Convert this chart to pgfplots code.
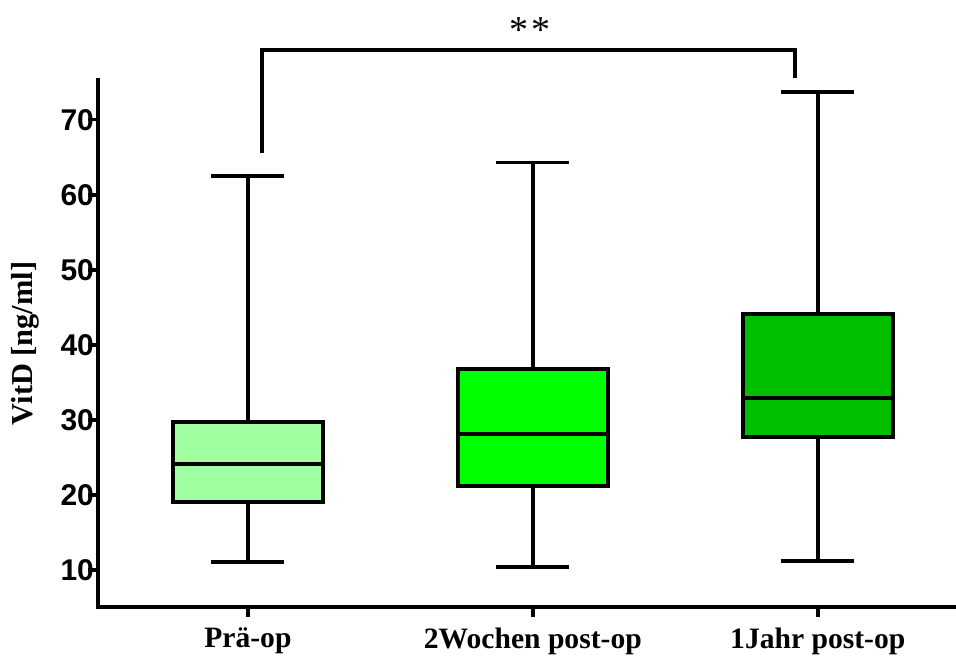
\documentclass[border=0pt]{standalone}
\usepackage{fontspec}
\setmainfont{Liberation Serif}
\setsansfont{Liberation Sans}
\usepackage{pgfplots}
\pgfplotsset{compat=1.18}
\definecolor{gA}{RGB}{160,255,160}
\definecolor{gB}{RGB}{0,255,0}
\definecolor{gC}{RGB}{0,190,0}
\begin{document}
\begin{tikzpicture}
\useasboundingbox (-49pt,-24pt) rectangle (429pt,303.5pt);
\begin{axis}[
  at={(0pt,0pt)}, anchor=south west,
  scale only axis,
  width=429pt, height=263.5pt,
  xmin=-0.526, xmax=2.485,
  ymin=5.07, ymax=75.3,
  clip=false,
  axis lines=left,
  axis line style={-, line width=1.9pt, line cap=rect},
  xtick={0,1,2},
  xticklabels={Prä-op, 2Wochen post-op, 1Jahr post-op},
  ytick={10,20,30,40,50,60,70},
  tick style={line width=1.7pt, black},
  tick align=outside,
  major tick length=5pt,
  /pgf/number format/assume math mode=true,
  yticklabel style={font=\sffamily\bfseries\fontsize{15}{17}\selectfont, xshift=6.5pt},
  xticklabel style={font=\rmfamily\bfseries\fontsize{14.8}{17}\selectfont, yshift=-2pt},
  ylabel={VitD [ng/ml]},
  ylabel style={font=\rmfamily\bfseries\fontsize{15.2}{17}\selectfont, yshift=4pt},
  every axis plot/.append style={line width=1.9pt, black, mark=none},
]
% Pre-op
\addplot[black] coordinates {(0,11.1) (0,19.1)};
\addplot[black] coordinates {(0,29.7) (0,62.5)};
\addplot[black] coordinates {(-0.128,11.1) (0.128,11.1)};
\addplot[black] coordinates {(-0.128,62.5) (0.128,62.5)};
\addplot[draw=black, fill=gA] coordinates {(-0.263,19.1) (0.263,19.1) (0.263,29.7) (-0.263,29.7)} -- cycle;
\addplot[black] coordinates {(-0.263,24.1) (0.263,24.1)};
% 2 Wochen
\addplot[black] coordinates {(1,10.4) (1,21.2)};
\addplot[black] coordinates {(1,36.8) (1,64.3)};
\addplot[black] coordinates {(0.872,10.4) (1.128,10.4)};
\addplot[black] coordinates {(0.872,64.3) (1.128,64.3)};
\addplot[draw=black, fill=gB] coordinates {(0.737,21.2) (1.263,21.2) (1.263,36.8) (0.737,36.8)} -- cycle;
\addplot[black] coordinates {(0.737,28.1) (1.263,28.1)};
% 1 Jahr
\addplot[black] coordinates {(2,11.2) (2,27.7)};
\addplot[black] coordinates {(2,44.1) (2,73.7)};
\addplot[black] coordinates {(1.872,11.2) (2.128,11.2)};
\addplot[black] coordinates {(1.872,73.7) (2.128,73.7)};
\addplot[draw=black, fill=gC] coordinates {(1.737,27.7) (2.263,27.7) (2.263,44.1) (1.737,44.1)} -- cycle;
\addplot[black] coordinates {(1.737,32.9) (2.263,32.9)};
% significance bracket
\draw[line width=1.9pt] (axis cs:0.05,65.6) -- (axis cs:0.05,79.3) -- (axis cs:1.92,79.3) -- (axis cs:1.92,75.5);
\node[font=\rmfamily\fontsize{19}{21}\selectfont, anchor=center] at (axis cs:0.99,81.9) {*\kern2pt*};
\end{axis}
\end{tikzpicture}
\end{document}
